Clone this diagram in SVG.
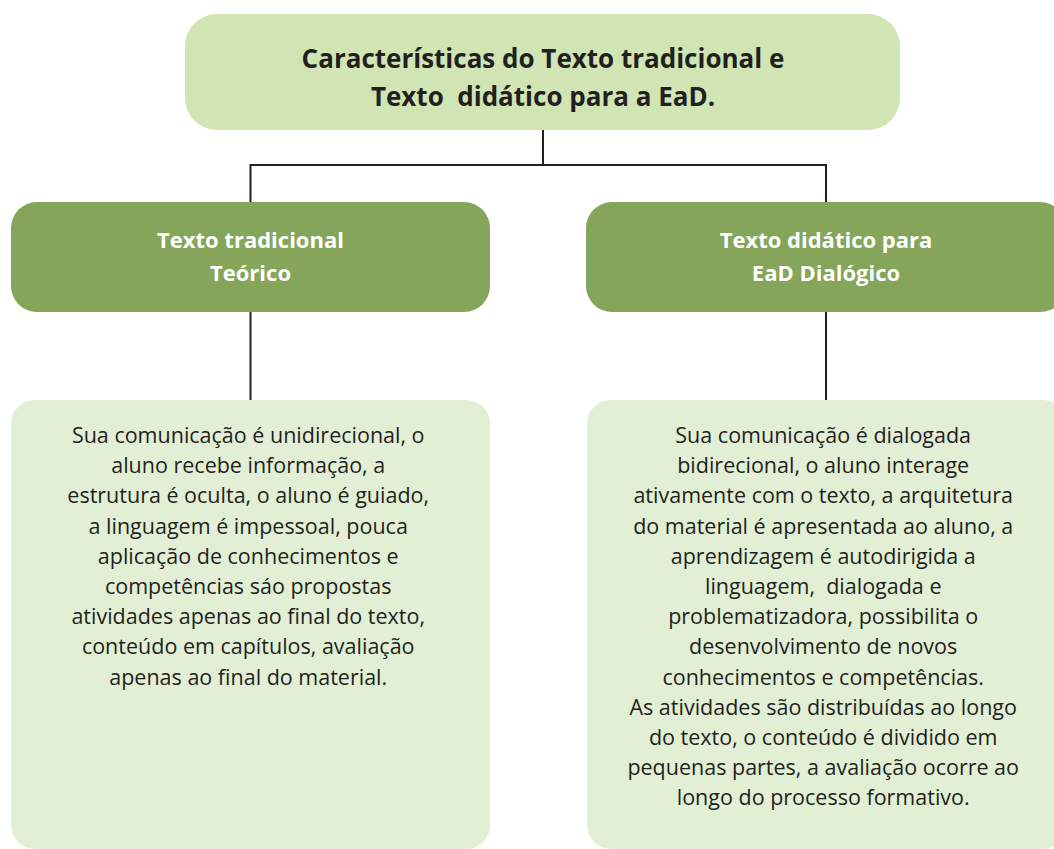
<svg xmlns="http://www.w3.org/2000/svg" width="1054" height="849" viewBox="0 0 1054 849">
<style>
.top{fill:#d1e4b3}
.mid{fill:#84a55a}
.body{fill:#e2efd5}
.conn{stroke:#231f20;stroke-width:2;fill:none}
text{font-family:"Open Sans","Noto Sans",sans-serif;text-anchor:middle;white-space:pre}
.t1{font-size:26px;font-weight:700;fill:#231f20}
.t2{font-size:22px;font-weight:700;fill:#ffffff}
.t3{font-size:21.5px;fill:#231f20}
</style>
<rect width="1054" height="849" fill="#ffffff"/>
<g id="connectors">
<path class="conn" d="M543 130 V165"/>
<path class="conn" d="M250.5 203 V165 H826 V203"/>
<path class="conn" d="M250.5 312 V400"/>
<path class="conn" d="M826 312 V400"/>
</g>
<g id="root">
<rect class="top" x="185" y="14" width="715" height="116" rx="32" ry="32"/>
<text class="t1" x="543" y="68">Características do Texto tradicional e</text>
<text class="t1" x="543" y="106">Texto  didático para a EaD.</text>
</g>
<g id="trad">
<rect class="mid" x="11" y="202" width="479" height="110" rx="26" ry="26"/>
<text class="t2" x="250.5" y="248">Texto tradicional</text>
<text class="t2" x="250.5" y="281">Teórico</text>
</g>
<g id="didatico">
<rect class="mid" x="586" y="202" width="480" height="110" rx="26" ry="26"/>
<text class="t2" x="826" y="248">Texto didático para</text>
<text class="t2" x="826" y="281">EaD Dialógico</text>
</g>
<g id="trad-desc">
<rect class="body" x="11" y="400" width="479" height="449" rx="24" ry="24"/>
<text class="t3" x="251">
<tspan x="251" y="443">Sua comunicação é unidirecional, o</tspan>
<tspan x="251" y="473.2">aluno recebe informação, a</tspan>
<tspan x="251" y="503.4">estrutura é oculta, o aluno é guiado,</tspan>
<tspan x="251" y="533.6">a linguagem é impessoal, pouca</tspan>
<tspan x="251" y="563.8">aplicação de conhecimentos e</tspan>
<tspan x="251" y="594">competências sáo propostas</tspan>
<tspan x="251" y="624.2">atividades apenas ao final do texto,</tspan>
<tspan x="251" y="654.4">conteúdo em capítulos, avaliação</tspan>
<tspan x="251" y="684.6">apenas ao final do material.</tspan>
</text>
</g>
<g id="didatico-desc">
<rect class="body" x="587" y="400" width="480" height="449" rx="24" ry="24"/>
<text class="t3" x="826">
<tspan x="826" y="443">Sua comunicação é dialogada</tspan>
<tspan x="826" y="473.2">bidirecional, o aluno interage</tspan>
<tspan x="826" y="503.4">ativamente com o texto, a arquitetura</tspan>
<tspan x="826" y="533.6">do material é apresentada ao aluno, a</tspan>
<tspan x="826" y="563.8">aprendizagem é autodirigida a</tspan>
<tspan x="826" y="594">linguagem,  dialogada e</tspan>
<tspan x="826" y="624.2">problematizadora, possibilita o</tspan>
<tspan x="826" y="654.4">desenvolvimento de novos</tspan>
<tspan x="826" y="684.6">conhecimentos e competências.</tspan>
<tspan x="826" y="714.8">As atividades são distribuídas ao longo</tspan>
<tspan x="826" y="745">do texto, o conteúdo é dividido em</tspan>
<tspan x="826" y="775.2">pequenas partes, a avaliação ocorre ao</tspan>
<tspan x="826" y="805.4">longo do processo formativo.</tspan>
</text>
</g>
</svg>
